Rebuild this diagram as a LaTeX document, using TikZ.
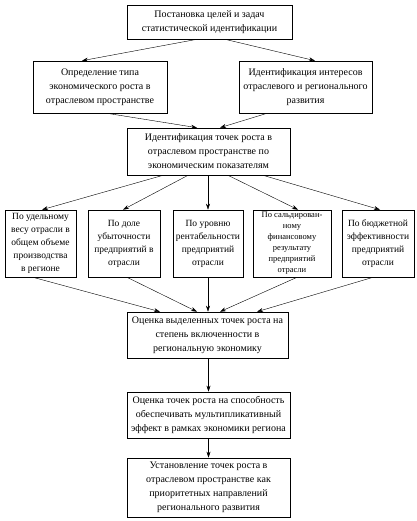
\documentclass[tikz,border=0pt]{standalone}
\usepackage{fontspec}
\setmainfont{Liberation Serif}
\usetikzlibrary{arrows.meta, positioning}
\tikzset{
  box/.style={draw=black, semithick, align=center, inner sep=1pt, font=\fontsize{10}{14}\selectfont},
  smallbox/.style={box, minimum height=67pt, font=\fontsize{9.5}{13}\selectfont},
  arr/.style={-{Stealth[length=6pt, width=4pt]}, black, thin}
}
\begin{document}
\begin{tikzpicture}[x=1pt, y=-1pt]
          \useasboundingbox (0,0) rectangle (416,521);
          % Top levels
          \node[box, minimum width=165pt, minimum height=34pt] (goal) at (209.5,22) {Постановка целей и задач\\статистической идентификации};
          \node[box, minimum width=134pt, minimum height=52pt] (type) at (100,87) {Определение типа\\экономического роста в\\отраслевом пространстве};
          \node[box, minimum width=133pt, minimum height=52pt] (inter) at (305.5,87) {Идентификация интересов\\отраслевого и регионального\\развития};
          \node[box, minimum width=163pt, minimum height=47pt] (ident) at (208.5,151.5) {Идентификация точек роста в\\отраслевом пространстве по\\экономическим показателям};
          % Indicators
          \node[smallbox, minimum width=71pt] (ves) at (40.5,243.5) {По удельному\\весу отрасли в\\общем объеме\\производства\\в регионе};
          \node[smallbox, minimum width=72pt] (ubyt) at (124,243.5) {По доле\\убыточности\\предприятий в\\отрасли};
          \node[smallbox, minimum width=70pt] (rent) at (208,243.5) {По уровню\\рентабельности\\предприятий\\отрасли};
          \node[smallbox, minimum width=78pt, font=\fontsize{8.5}{11}\selectfont] (sald) at (292,243.5) {По сальдирован-\\ному\\финансовому\\результату\\предприятий\\отрасли};
          \node[smallbox, minimum width=72pt] (byud) at (378,243.5) {По бюджетной\\эффективности\\предприятий\\отрасли};
          % Bottom levels
          \node[box, minimum width=161pt, minimum height=46pt] (ocen) at (207.5,335) {Оценка выделенных точек роста на\\степень включенности в\\региональную экономику};
          \node[box, minimum width=163pt, minimum height=46pt] (mult) at (208.5,415) {Оценка точек роста на способность\\обеспечивать мультипликативный\\эффект в рамках экономики региона};
          \node[box, minimum width=163pt, minimum height=59pt] (ustan) at (208.5,487.5) {Установление точек роста в\\отраслевом пространстве как\\приоритетных направлений\\регионального развития};
          % Arrows
          \draw[arr] ([xshift=-12.5pt]goal.south) -- ([xshift=-18pt]type.north);
          \draw[arr] ([xshift=15.5pt]goal.south) -- ([xshift=9.5pt]inter.north);
          \draw[arr] ([xshift=7pt]type.south) -- ([xshift=-11.5pt]ident.north);
          \draw[arr] ([xshift=-38.5pt]inter.south) -- ([xshift=11.5pt]ident.north);
          \draw[arr] ([xshift=-45.5pt]ident.south) -- ([xshift=1.5pt]ves.north);
          \draw[arr] ([xshift=-20.5pt]ident.south) -- ([xshift=-1pt]ubyt.north);
          \draw[arr] (rent.north |- ident.south) -- (rent.north);
          \draw[arr] ([xshift=19.5pt]ident.south) -- ([xshift=6pt]sald.north);
          \draw[arr] ([xshift=54.5pt]ident.south) -- ([xshift=2pt]byud.north);
          \draw[arr] ([xshift=-7.5pt]ves.south) -- ([xshift=-47.5pt]ocen.north);
          \draw[arr] ([xshift=3pt]ubyt.south) -- ([xshift=-10.5pt]ocen.north);
          \draw[arr] (rent.south) -- (rent.south |- ocen.north);
          \draw[arr] ([xshift=5pt]sald.south) -- ([xshift=12.5pt]ocen.north);
          \draw[arr] ([xshift=-5pt]byud.south) -- ([xshift=49.5pt]ocen.north);
          \draw[arr] (ocen.south -| mult.north) -- (mult.north);
          \draw[arr] (mult.south) -- (ustan.north);
        \end{tikzpicture}
\end{document}
